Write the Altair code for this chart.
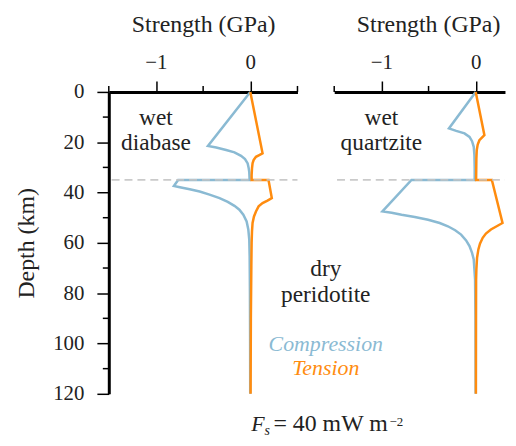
import altair as alt
import pandas as pd

# ---------------- data ----------------
# Left panel: wet diabase crust over dry peridotite mantle
L_comp_depth = [0, 21.5, 22.1, 23.1, 24.0, 25.4, 26.7, 28.4, 30.1, 31.9, 35.0, 35.0, 37.4, 37.9, 38.7,
                39.6, 40.8, 42.2, 43.7, 45.3, 46.8, 48.8, 51.5, 54.7, 58.7, 65.3, 80, 100, 120]
L_comp_str = [0, -0.449, -0.361, -0.256, -0.168, -0.098, -0.056, -0.028, -0.018, -0.011, -0.007, -0.765,
              -0.81, -0.747, -0.642, -0.537, -0.432, -0.326, -0.239, -0.168, -0.116, -0.074, -0.039,
              -0.021, -0.011, -0.007, -0.004, -0.002, -0.001]
L_tens_depth = [0, 24.4, 25.1, 25.8, 27.1, 28.4, 30.4, 33.0, 35.0, 35.0, 42.2, 43.2, 44.2, 45.5, 47.5,
                49.5, 52.1, 55.4, 60.0, 69.2, 90, 120]
L_tens_str = [0, 0.13, 0.095, 0.06, 0.035, 0.024, 0.018, 0.014, 0.014, 0.193, 0.228, 0.182, 0.13, 0.088,
              0.06, 0.039, 0.024, 0.018, 0.014, 0.011, 0.006, 0.003]

# Right panel: wet quartzite crust over dry peridotite mantle
R_comp_depth = [0, 14.5, 15.5, 16.5, 17.9, 19.6, 21.8, 25.1, 30.4, 35.0, 35.0, 47.5, 48.0, 48.8, 49.7,
                50.8, 52.1, 53.4, 55.0, 56.7, 59.0, 61.3, 64.0, 66.6, 70.6, 74.5, 90, 120]
R_comp_str = [0, -0.284, -0.207, -0.119, -0.066, -0.039, -0.021, -0.014, -0.011, -0.011, -0.681, -0.989,
              -0.891, -0.786, -0.646, -0.505, -0.382, -0.295, -0.218, -0.155, -0.102, -0.066, -0.039,
              -0.021, -0.014, -0.007, -0.003, -0.001]
R_tens_depth = [0, 17.2, 18.3, 19.2, 20.9, 23.1, 26.4, 35.0, 35.0, 52.1, 53.2, 54.7, 56.3, 58.0, 60.3,
                62.6, 65.9, 70.6, 74.5, 90, 120]
R_tens_str = [0, 0.092, 0.063, 0.039, 0.021, 0.011, 0.007, 0.004, 0.171, 0.284, 0.232, 0.161, 0.108,
              0.074, 0.045, 0.028, 0.014, 0.007, 0.004, 0.003, 0.002]

moho_depth = 35
x_major = [-1, 0]
x_minor = [-1.5, -0.5, 0.5]
y_major = [0, 20, 40, 60, 80, 100, 120]
y_minor = [10, 30, 50, 70, 90, 110]

# annotation text (strength, depth in data units)
left_labels = [("wet", -1.0, 13.2), ("diabase", -1.0, 23.0),
               ("dry", 0.8, 73.2), ("peridotite", 0.8, 83.5)]
right_labels = [("wet", -1.0, 13.2), ("quartzite", -1.0, 23.0)]
legend_labels = [("Compression", 0.8, 102.8), ("Tension", 0.8, 112.7)]
fs_F = [("F", 0.01, 134.9)]
fs_sub = [("s", 0.15, 136.3)]
fs_main = [("= 40 mW m", 0.245, 134.9)]
fs_sup = [("\u22122", 1.475, 132.6)]

# ---------------- styling ----------------
BLUE = "#8abad3"
ORANGE = "#ff8c0f"
FONT = "Liberation Serif"
INK = "#222222"


def curve(depths, strengths, series):
    return pd.DataFrame({"depth": depths, "strength": strengths,
                         "series": series, "i": range(len(depths))})


def text_layer(rows, X, Y, size, style="normal", align="center", color=INK, color_enc=None):
    df = pd.DataFrame(rows, columns=["text", "strength", "depth"])
    mark = alt.Chart(df).mark_text(font=FONT, fontSize=size, fontStyle=style, align=align,
                                   baseline="alphabetic", **({} if color_enc else {"color": color}))
    enc = dict(x=X, y=Y, text="text:N")
    if color_enc is not None:
        enc["color"] = color_enc
    return mark.encode(**enc)


def make_panel(comp, tens, xdomain, width, show_y, title_x, labels, left_panel):
    xscale = alt.Scale(domain=xdomain, nice=False, zero=False)
    yscale = alt.Scale(domain=[0, 120], reverse=True, nice=False, zero=False)
    xaxis = alt.Axis(orient="top", values=x_major, title="Strength (GPa)", titleX=title_x,
                     titleFont=FONT, titleFontSize=24, titleFontWeight="normal", titleColor=INK,
                     titlePadding=15, labelFont=FONT, labelFontSize=21, labelColor=INK,
                     labelPadding=9, tickSize=11, tickWidth=1.5, tickColor="black",
                     domainColor="black", domainWidth=3, grid=False)
    if show_y:
        yaxis = alt.Axis(values=y_major, title="Depth (km)", titleFont=FONT, titleFontSize=24,
                         titleFontWeight="normal", titleColor=INK, titlePadding=14,
                         labelFont=FONT, labelFontSize=21, labelColor=INK, labelPadding=13,
                         tickSize=12, tickWidth=1.5, tickColor="black", domainColor="black",
                         domainWidth=3, grid=False)
    else:
        yaxis = None
    X = alt.X("strength:Q", scale=xscale, axis=xaxis)
    Y = alt.Y("depth:Q", scale=yscale, axis=yaxis)

    data = pd.concat([curve(*comp, "Compression"), curve(*tens, "Tension")])
    lines = alt.Chart(data).mark_line(strokeWidth=2.5, strokeJoin="miter").encode(
        x=X, y=Y, detail="series:N", order="i:Q",
        color=alt.Color("series:N", scale=alt.Scale(domain=["Compression", "Tension"],
                                                    range=[BLUE, ORANGE]), legend=None))

    dash = alt.Chart(pd.DataFrame({"strength": [xdomain[0] + 0.03], "s2": [xdomain[1]],
                                   "depth": [moho_depth]})).mark_rule(
        color="#c4c4c4", strokeWidth=1.8, strokeDash=[8, 5], opacity=0.9).encode(
        x=X, x2="s2:Q", y=Y)

    minor_x = alt.Chart(pd.DataFrame({"strength": [v for v in x_minor
                                                    if xdomain[0] <= v <= xdomain[1]]})).mark_rule(
        color="black", strokeWidth=1.5).encode(x=X, y=alt.value(0), y2=alt.value(-6))

    layers = [lines, dash, minor_x]
    if show_y:
        minor_y = alt.Chart(pd.DataFrame({"depth": y_minor})).mark_rule(
            color="black", strokeWidth=1.5).encode(y=Y, x=alt.value(0), x2=alt.value(-6))
        layers.append(minor_y)

    layers.append(text_layer(labels, X, Y, 23.5))
    if left_panel:
        layers.append(text_layer(
            legend_labels, X, Y, 22, style="italic",
            color_enc=alt.Color("text:N", scale=alt.Scale(domain=["Compression", "Tension"],
                                                          range=[BLUE, ORANGE]), legend=None)))
        layers.append(text_layer(fs_F, X, Y, 22, style="italic", align="left"))
        layers.append(text_layer(fs_sub, X, Y, 14, style="italic", align="left"))
        layers.append(text_layer(fs_main, X, Y, 24, align="left"))
        layers.append(text_layer(fs_sup, X, Y, 13, align="left"))
    return alt.layer(*layers).properties(width=width, height=304)


left = make_panel((L_comp_depth, L_comp_str), (L_tens_depth, L_tens_str), [-1.5, 0.5], 190, True,
                  95, left_labels, True)
right = make_panel((R_comp_depth, R_comp_str), (R_tens_depth, R_tens_str), [-1.5, 0.31], 171.95,
                   False, 94.5, right_labels, False)

chart = alt.hconcat(left, right, spacing=37, bounds="flush").properties(
    padding={"left": 6.5, "top": 3, "right": 0, "bottom": 0}
).resolve_scale(color="independent").configure_view(stroke=None)

chart.save("out.html", embed_options={"renderer": "svg", "actions": False})
